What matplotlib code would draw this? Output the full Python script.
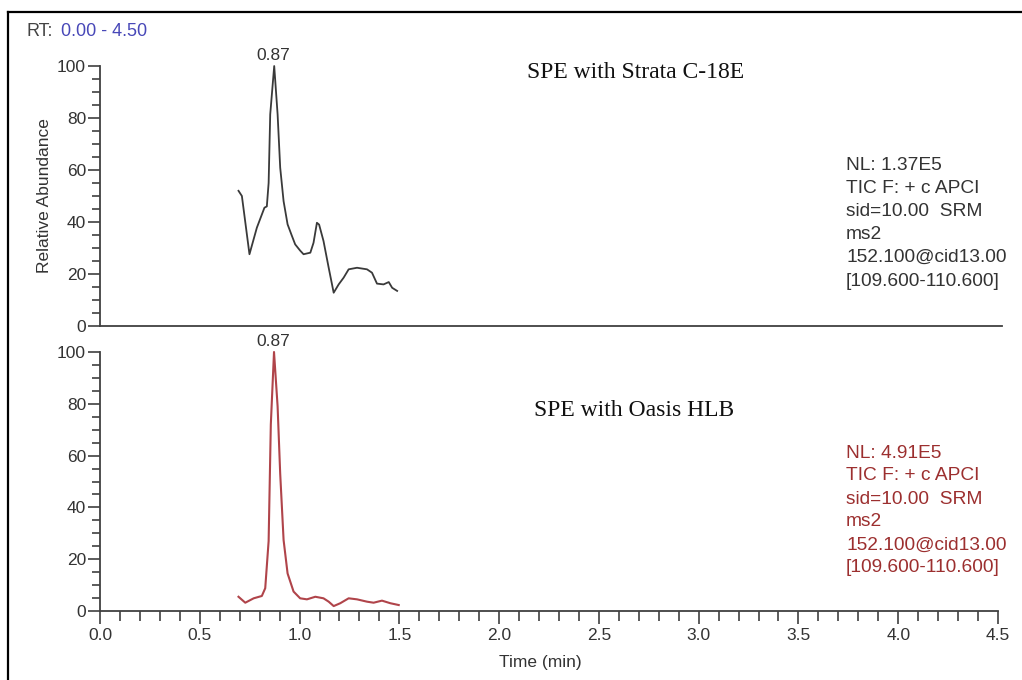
import matplotlib
matplotlib.use("Agg")
import matplotlib.pyplot as plt
from matplotlib.lines import Line2D
from matplotlib.ticker import MultipleLocator

# Chromatogram traces (time in min, relative abundance %)
strata_time = [0.694, 0.711, 0.749, 0.786, 0.824, 0.836, 0.845, 0.853, 0.873, 0.890,
               0.903, 0.920, 0.940, 0.960, 0.978, 1.003, 1.020, 1.054, 1.070, 1.087,
               1.098, 1.120, 1.146, 1.171, 1.196, 1.221, 1.246, 1.288, 1.338, 1.363,
               1.388, 1.421, 1.447, 1.464, 1.489]
strata_abund = [52, 50, 27.6, 37.8, 45.5, 46, 55, 81.4, 100, 81.4,
                60.9, 48, 39.1, 35, 31.4, 29.0, 27.6, 28.2, 32, 39.7,
                39, 32.7, 22.4, 12.8, 16, 18.6, 21.8, 22.4, 21.8, 20.5,
                16.3, 16, 16.9, 14.7, 13.5]

oasis_time = [0.694, 0.728, 0.770, 0.811, 0.828, 0.845, 0.856, 0.872, 0.890, 0.903,
              0.920, 0.940, 0.970, 1.003, 1.037, 1.079, 1.120, 1.146, 1.171, 1.204,
              1.246, 1.288, 1.338, 1.371, 1.413, 1.455, 1.497]
oasis_abund = [5.5, 3.2, 4.9, 5.8, 8.8, 27, 72, 100, 79, 53,
               27.4, 14.5, 7.5, 4.9, 4.5, 5.5, 4.9, 3.6, 1.9, 3.0,
               4.9, 4.5, 3.6, 3.2, 4.0, 3.0, 2.3]

peak_rt = 0.87
info_lines_top = ["NL: 1.37E5", "TIC F: + c APCI", "sid=10.00  SRM", "ms2",
                  "152.100@cid13.00", "[109.600-110.600]"]
info_lines_bot = ["NL: 4.91E5", "TIC F: + c APCI", "sid=10.00  SRM", "ms2",
                  "152.100@cid13.00", "[109.600-110.600]"]

W, H = 1022, 680
plt.rcParams["font.family"] = ["Liberation Sans", "DejaVu Sans"]
axis_col = "#404040"
red = "#b0444a"
red_txt = "#9c2f2f"

fig = plt.figure(figsize=(W / 100, H / 100), dpi=100)


def fx(px):
    return px / W


def fy(py):
    return 1 - py / H


ax1 = fig.add_axes([fx(100), fy(326), fx(898), 260 / H])
ax2 = fig.add_axes([fx(100), fy(611), fx(898), 259 / H])

for ax in (ax1, ax2):
    ax.set_xlim(0, 4.5)
    ax.set_ylim(0, 100)
    for s in ("top", "right"):
        ax.spines[s].set_visible(False)
    for s in ("left", "bottom"):
        ax.spines[s].set_color(axis_col)
        ax.spines[s].set_linewidth(1.3)
    ax.yaxis.set_major_locator(MultipleLocator(20))
    ax.yaxis.set_minor_locator(MultipleLocator(5))
    ax.tick_params(axis="y", which="major", length=9, width=1.2, color=axis_col,
                   labelsize=12.5, labelcolor="#333333", pad=1)
    ax.tick_params(axis="y", which="minor", length=6, width=1.2, color=axis_col)
    ax.patch.set_alpha(0)

ax1.spines["bottom"].set_bounds(0, 4.52)
ax1.tick_params(axis="x", which="both", bottom=False, labelbottom=False)

ax2.xaxis.set_major_locator(MultipleLocator(0.5))
ax2.xaxis.set_minor_locator(MultipleLocator(0.1))
ax2.xaxis.set_major_formatter(matplotlib.ticker.FormatStrFormatter("%.1f"))
ax2.tick_params(axis="x", which="major", length=9, width=1.2, color=axis_col,
                labelsize=12.5, labelcolor="#333333", pad=3)
ax2.tick_params(axis="x", which="minor", length=7, width=1.2, color=axis_col)

ax1.plot(strata_time, strata_abund, color="#3a3a3a", lw=1.3, clip_on=False)
ax2.plot(oasis_time, oasis_abund, color=red, lw=1.5, clip_on=False)

ax1.text(peak_rt, 101, "0.87", ha="center", va="bottom", fontsize=12.5, color="#333333")
ax2.text(peak_rt, 101, "0.87", ha="center", va="bottom", fontsize=12.5, color="#333333")

ax1.set_ylabel("Relative Abundance", fontsize=12.5, color="#333333", labelpad=4)
ax2.set_xlabel("Time (min)", fontsize=12.5, color="#333333")
ax2.xaxis.set_label_coords(0.49, -0.17)

fig.text(fx(636), fy(72), "SPE with Strata C-18E", ha="center", va="center",
         family="Liberation Serif", fontsize=17, color="#111111")
fig.text(fx(634), fy(410), "SPE with Oasis HLB", ha="center", va="center",
         family="Liberation Serif", fontsize=17, color="#111111")

for i, line in enumerate(info_lines_top):
    fig.text(fx(846), fy(165 + 23.2 * i), line, ha="left", va="center",
             fontsize=13.8, color="#333333")
for i, line in enumerate(info_lines_bot):
    fig.text(fx(846), fy(453 + 23 * i), line, ha="left", va="center",
             fontsize=13.8, color=red_txt)

fig.text(fx(27), fy(32), "RT:", ha="left", va="center", fontsize=13, color="#444444")
fig.text(fx(61), fy(32), "0.00 - 4.50", ha="left", va="center", fontsize=13,
         color="#4848b8")

# outer frame (left and top edges)
fig.add_artist(Line2D([fx(8), fx(8)], [0, fy(12)], color="black", lw=1.6,
                      transform=fig.transFigure))
fig.add_artist(Line2D([fx(8), 1], [fy(12), fy(12)], color="black", lw=1.6,
                      transform=fig.transFigure))

fig.savefig("out.png", dpi=100)
